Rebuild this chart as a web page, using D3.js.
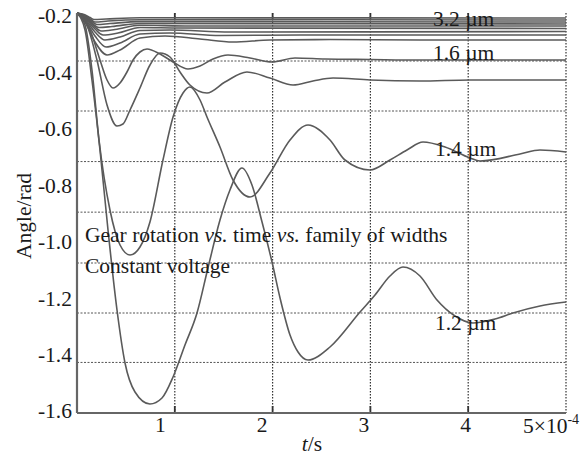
<!DOCTYPE html>
<html><head><meta charset="utf-8">
<script src="https://cdn.jsdelivr.net/npm/d3@7"></script>
<style>
html,body{margin:0;padding:0;background:#fff;}
svg{display:block;}
text{font-family:"Liberation Serif","Times New Roman",serif;fill:#1a1a1a;}
</style></head>
<body>
<svg id="chart" width="582" height="456"></svg>
<script>
// ---- axis data ----
const yTicks = [-0.2, -0.4, -0.6, -0.8, -1.0, -1.2, -1.4, -1.6];
const xTicks = [1, 2, 3, 4];
const xLastTick = 5;
const xGrid = [1, 2, 3, 4, 5];
const yGrid = [-0.368, -0.543, -0.72, -0.897, -1.075, -1.25, -1.423];

// ---- series (t in 1e-4 s, angle in rad) ----
const t_32 = [0, 0.072, 0.133, 0.174, 0.297, 0.644, 5];
const v_32 = [-0.2, -0.2053, -0.2158, -0.2228, -0.221, -0.2168, -0.2175];
const t_30 = [0, 0.072, 0.143, 0.184, 0.317, 0.644, 5];
const v_30 = [-0.2, -0.207, -0.2228, -0.2315, -0.228, -0.2235, -0.2245];
const t_28 = [0, 0.082, 0.153, 0.204, 0.337, 0.644, 5];
const v_28 = [-0.2, -0.2105, -0.2298, -0.2403, -0.2368, -0.2301, -0.2315];
const t_26 = [0, 0.082, 0.164, 0.225, 0.358, 0.644, 5];
const v_26 = [-0.2, -0.2123, -0.2385, -0.2508, -0.2473, -0.2368, -0.2385];
const t_24 = [0, 0.082, 0.184, 0.245, 0.389, 0.644, 1.155, 5];
const v_24 = [-0.2, -0.214, -0.249, -0.263, -0.2578, -0.2427, -0.2455, -0.2455];
const t_22 = [0, 0.082, 0.184, 0.266, 0.419, 0.644, 1.053, 5];
const v_22 = [-0.2, -0.2175, -0.256, -0.277, -0.27, -0.2508, -0.2525, -0.254];
const t_20 = [0, 0.082, 0.184, 0.286, 0.44, 0.644, 0.951, 1.564, 5];
const v_20 = [-0.2, -0.221, -0.2665, -0.2945, -0.284, -0.261, -0.2595, -0.2665, -0.265];
const t_18 = [0, 0.082, 0.184, 0.297, 0.44, 0.644, 0.951, 1.462, 2.28, 5];
const v_18 = [-0.2, -0.2245, -0.2805, -0.319, -0.305, -0.2735, -0.27, -0.279, -0.277, -0.277];
const t_17 = [0, 0.082, 0.184, 0.307, 0.44, 0.644, 0.9, 1.258, 1.595, 1.973, 2.587, 3.507, 5];
const v_17 = [-0.2, -0.2315, -0.3015, -0.347, -0.3295, -0.2875, -0.2805, -0.291, -0.3015, -0.2945, -0.293, -0.2945, -0.2945];
const t_16 = [0, 0.133, 0.235, 0.307, 0.368, 0.44, 0.511, 0.573, 0.644, 0.716, 0.849, 0.982, 1.135, 1.258, 1.391, 1.544, 1.769, 1.994, 2.229, 2.536, 2.996, 3.507, 4.018, 5];
const v_16 = [-0.2, -0.2595, -0.3645, -0.4345, -0.4625, -0.445, -0.4065, -0.3645, -0.3365, -0.326, -0.3435, -0.3715, -0.396, -0.3855, -0.361, -0.347, -0.3575, -0.3715, -0.3575, -0.361, -0.3628, -0.3645, -0.3645, -0.3645];
const t_15 = [0, 0.102, 0.204, 0.307, 0.409, 0.47, 0.542, 0.644, 0.746, 0.849, 0.951, 1.053, 1.155, 1.329, 1.513, 1.738, 1.973, 2.209, 2.413, 2.618, 2.996, 3.507, 4.018, 4.53, 5];
const v_15 = [-0.2, -0.242, -0.3645, -0.522, -0.5955, -0.5885, -0.5395, -0.4625, -0.382, -0.34, -0.354, -0.4065, -0.452, -0.48, -0.4415, -0.4065, -0.4275, -0.452, -0.438, -0.4275, -0.4345, -0.438, -0.4345, -0.4345, -0.4345];
const t_14 = [0, 0.082, 0.153, 0.225, 0.337, 0.44, 0.542, 0.644, 0.746, 0.879, 0.982, 1.084, 1.155, 1.258, 1.329, 1.462, 1.595, 1.769, 1.973, 2.178, 2.362, 2.587, 2.74, 2.996, 3.2, 3.374, 3.538, 3.763, 4.018, 4.121, 4.53, 4.734, 5];
const v_14 = [-0.2, -0.242, -0.3995, -0.6445, -0.8895, -1.012, -1.047, -1.019, -0.9315, -0.7145, -0.564, -0.48, -0.459, -0.5045, -0.564, -0.669, -0.7845, -0.844, -0.76, -0.6445, -0.592, -0.6445, -0.7145, -0.7495, -0.7145, -0.6795, -0.6515, -0.669, -0.7075, -0.718, -0.6935, -0.6795, -0.6865];
const t_12 = [0, 0.082, 0.153, 0.235, 0.317, 0.409, 0.491, 0.593, 0.746, 0.869, 0.982, 1.104, 1.227, 1.339, 1.462, 1.564, 1.687, 1.789, 1.892, 1.994, 2.076, 2.178, 2.26, 2.362, 2.587, 2.894, 3.047, 3.2, 3.333, 3.507, 3.681, 3.865, 4.049, 4.274, 4.458, 4.734, 5];
const v_12 = [-0.2, -0.2595, -0.4345, -0.6795, -0.9595, -1.2395, -1.425, -1.5265, -1.5685, -1.5475, -1.474, -1.362, -1.25, -1.0925, -0.9245, -0.8195, -0.7425, -0.802, -0.9315, -1.0715, -1.1975, -1.327, -1.3865, -1.4145, -1.369, -1.2465, -1.187, -1.1205, -1.089, -1.1205, -1.2045, -1.2605, -1.285, -1.271, -1.25, -1.2255, -1.2115];

const seriesT = [t_32, t_30, t_28, t_26, t_24, t_22, t_20, t_18, t_17, t_16, t_15, t_14, t_12];
const seriesV = [v_32, v_30, v_28, v_26, v_24, v_22, v_20, v_18, v_17, v_16, v_15, v_14, v_12];

// curve labels: text, t position, angle position
const labelText = ["3.2 µm", "1.6 µm", "1.4 µm", "1.2 µm"];
const labelT = [3.64, 3.64, 3.66, 3.66];
const labelV = [-0.244, -0.366, -0.701, -1.31];

// ---- drawing ----
const svg = d3.select("#chart");
const x = d3.scaleLinear().domain([0, 5]).range([77, 566]);
const y = d3.scaleLinear().domain([-0.2, -1.6]).range([13, 413]);
const xLab = d3.scaleLinear().domain([0, 5]).range([58, 567]);
const yLab = d3.scaleLinear().domain([-0.2, -1.6]).range([16, 411]);

// horizontal grid
svg.append("g").selectAll("line").data(yGrid).join("line")
  .attr("x1", x(0)).attr("x2", x(5))
  .attr("y1", d => y(d)).attr("y2", d => y(d))
  .attr("stroke", "#555").attr("stroke-width", 1)
  .attr("stroke-dasharray", "2,1.5");
// vertical grid
svg.append("g").selectAll("line").data(xGrid).join("line")
  .attr("x1", d => x(d)).attr("x2", d => x(d))
  .attr("y1", y(-0.2)).attr("y2", y(-1.6))
  .attr("stroke", "#333").attr("stroke-width", 1.2)
  .attr("stroke-dasharray", "1.5,1.5");
// small ticks at top and bottom of vertical grid
svg.append("g").selectAll("line").data(xGrid.slice(0, 4)).join("line")
  .attr("x1", d => x(d)).attr("x2", d => x(d))
  .attr("y1", y(-0.2)).attr("y2", y(-0.2) + 7)
  .attr("stroke", "#333").attr("stroke-width", 1.8);
svg.append("g").selectAll("line").data(xGrid.slice(0, 4)).join("line")
  .attr("x1", d => x(d)).attr("x2", d => x(d))
  .attr("y1", y(-1.6) - 7).attr("y2", y(-1.6))
  .attr("stroke", "#333").attr("stroke-width", 1.8);

// curves
svg.append("defs").append("clipPath").attr("id", "clip")
  .append("rect").attr("x", x(0)).attr("y", y(-0.2) - 2)
  .attr("width", x(5) - x(0)).attr("height", y(-1.6) - y(-0.2) + 2);
const line = d3.line().x(d => x(d[0])).y(d => y(d[1])).curve(d3.curveMonotoneX);
svg.append("g").attr("clip-path", "url(#clip)")
  .selectAll("path").data(seriesT.map((ts, i) => ts.map((t, j) => [t, seriesV[i][j]])))
  .join("path")
  .attr("d", line)
  .attr("fill", "none").attr("stroke", "#5a5a5a").attr("stroke-width", 1.6);

// axes lines
svg.append("line").attr("x1", x(0)).attr("x2", x(0)).attr("y1", y(-0.2)).attr("y2", y(-1.6))
  .attr("stroke", "#666").attr("stroke-width", 2.2);
svg.append("line").attr("x1", x(0)).attr("x2", x(5)).attr("y1", y(-1.6)).attr("y2", y(-1.6))
  .attr("stroke", "#666").attr("stroke-width", 2.2);

// y tick labels
const yAxis = svg.append("g").attr("transform", "translate(74,0)")
  .call(d3.axisLeft(yLab).tickValues(yTicks).tickSize(0).tickPadding(2).tickFormat(d => d.toFixed(1)));
yAxis.select(".domain").remove();
yAxis.selectAll("text").attr("font-size", 21.5).attr("font-family", "Liberation Serif").attr("fill", "#1a1a1a");

// x tick labels
const xAxis = svg.append("g").attr("transform", "translate(0,417)")
  .call(d3.axisBottom(xLab).tickValues(xTicks).tickSize(0).tickPadding(0).tickFormat(d => String(d)));
xAxis.select(".domain").remove();
xAxis.selectAll("text").attr("font-size", 21.5).attr("font-family", "Liberation Serif").attr("fill", "#1a1a1a");

const last = svg.append("text").attr("x", xLab(xLastTick) - 44).attr("y", 433).attr("font-size", 21.5);
last.append("tspan").text(xLastTick + "×10");
last.append("tspan").attr("dy", -9).attr("font-size", 14).text("-4");

// axis titles
svg.append("text").attr("x", 312).attr("y", 451).attr("text-anchor", "middle").attr("font-size", 21.5)
  .html('<tspan font-style="italic">t</tspan>/s');
svg.append("text").attr("transform", "translate(31,216) rotate(-90)").attr("text-anchor", "middle")
  .attr("font-size", 21.5).text("Angle/rad");

// annotations
const ann = svg.append("text").attr("x", 85).attr("y", 242).attr("font-size", 21.5);
ann.append("tspan").text("Gear rotation ");
ann.append("tspan").attr("font-style", "italic").text("vs.");
ann.append("tspan").text(" time ");
ann.append("tspan").attr("font-style", "italic").text("vs.");
ann.append("tspan").text(" family of widths");
svg.append("text").attr("x", 85).attr("y", 273).attr("font-size", 21.5).text("Constant voltage");

// curve labels
svg.append("g").selectAll("text").data(labelText).join("text")
  .attr("x", (d, i) => x(labelT[i])).attr("y", (d, i) => y(labelV[i]))
  .attr("font-size", 21.5).text(d => d);
</script>
</body></html>
